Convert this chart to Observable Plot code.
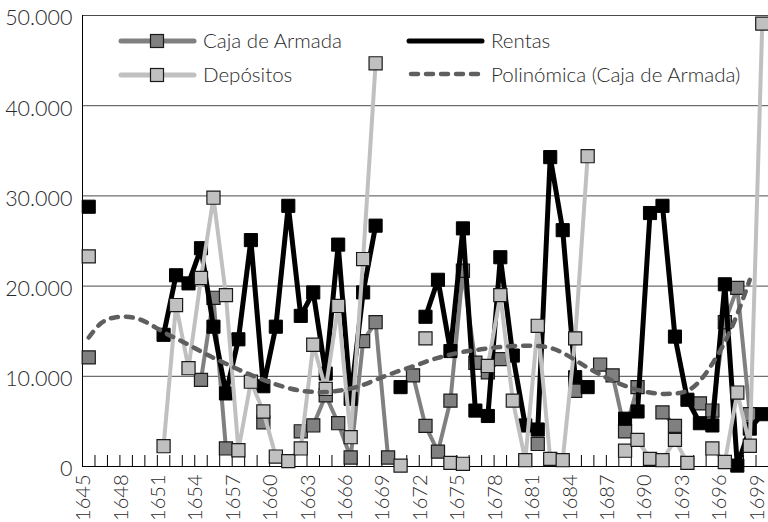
<!DOCTYPE html>
<html><head><meta charset="utf-8">
<script src="https://cdn.jsdelivr.net/npm/d3@7"></script>
<script src="https://cdn.jsdelivr.net/npm/@observablehq/plot@0.6"></script>
<style>
body{margin:0;background:#fff;}
#wrap{position:relative;width:768px;height:522px;font-family:Lato,"Open Sans",sans-serif;font-weight:300;}
.leg{position:absolute;font-size:20.5px;line-height:20px;color:#2a2a2a;white-space:nowrap;}
.sw{position:absolute;}
</style></head><body><div id="wrap"></div>
<script>
const years = [1645,1646,1647,1648,1649,1650,1651,1652,1653,1654,1655,1656,1657,1658,1659,1660,1661,1662,1663,1664,1665,1666,1667,1668,1669,1670,1671,1672,1673,1674,1675,1676,1677,1678,1679,1680,1681,1682,1683,1684,1685,1686,1687,1688,1689,1690,1691,1692,1693,1694,1695,1696,1697,1698,1699];
const labelYears = [1645,1648,1651,1654,1657,1660,1663,1666,1669,1672,1675,1678,1681,1684,1687,1690,1693,1696,1699];
const yTicks = [0,10000,20000,30000,40000,50000];
const caja = [12100,null,null,null,null,null,null,null,null,9600,18700,2000,null,null,4900,null,null,3900,4550,7900,4800,1000,13900,16000,1000,null,10100,4500,1650,7300,21700,11500,10450,11900,null,null,2500,null,null,8400,null,11300,10100,3900,8800,null,6000,4500,null,7000,6200,16000,19800,5800,null];
const rentas = [28800,null,null,null,null,null,14600,21200,20300,24200,15500,8100,14100,25100,8900,15500,28900,16700,19300,10300,24600,7500,19300,26700,null,8800,null,16600,20700,12800,26400,6200,5600,23200,12300,4550,4100,34300,26200,9900,8800,null,null,5300,6100,28100,28900,14400,7400,4800,4550,20200,100,4200,5800];
const depositos = [23300,null,null,null,null,null,2250,17900,10900,20900,29800,19000,1800,9400,6100,1100,600,2000,13500,8600,17800,3250,23000,44700,null,100,null,14200,null,400,300,null,11150,19000,7300,700,15600,850,700,14200,34400,null,null,1750,2950,850,700,2950,400,null,2000,500,8200,2300,49100];
const tendencia = [14300,15900,16500,16600,16350,15700,14900,14200,13500,12750,12050,11400,10750,10150,9600,9100,8700,8400,8270,8250,8400,8650,9050,9600,10150,10650,11100,11600,12050,12400,12700,12900,13100,13250,13350,13400,13350,13150,12600,11800,10950,10200,9500,8950,8500,8200,8050,8100,8400,9500,11400,13800,16900,20700,null];
const seriesNames = ["Caja de Armada","Rentas","Depósitos","Polinómica (Caja de Armada)"];

const rows = years.map((y,i)=>({year:y, caja:caja[i], rentas:rentas[i], depositos:depositos[i], trend:tendencia[i]}));
const between = years.map(y=>y-0.5).concat([years[years.length-1]+0.5]);
const fmt = d3.formatLocale({decimal:",",thousands:".",grouping:[3],currency:["",""]}).format(",d");
const SQ = 7.4;

const chart = Plot.plot({
  width:768, height:522,
  marginLeft:82, marginRight:0, marginTop:15, marginBottom:56,
  style:{fontFamily:"Lato, 'Open Sans', sans-serif", fontSize:"20px", color:"#2a2a2a", background:"white", fontWeight:300},
  x:{domain:[years[0]-0.5, years[years.length-1]+0.5], label:null},
  y:{domain:[0,50000], label:null},
  marks:[
    Plot.gridY(yTicks.slice(1), {stroke:"#4a4a4a", strokeOpacity:1, strokeWidth:1}),
    Plot.axisY(yTicks, {tickSize:0, tickPadding:10, tickFormat:fmt, fontSize:21.5, fill:"#2a2a2a", dy:3, label:null}),
    Plot.axisX(labelYears, {tickSize:0, tickPadding:8, tickRotate:-90, tickFormat:d=>String(d), fontSize:20, fill:"#2a2a2a", dx:-5, label:null}),
    Plot.tickX(between, {x:d=>d, insetTop:440, stroke:"#000", strokeWidth:1}),
    Plot.ruleY([0], {stroke:"#000", strokeWidth:1}),
    Plot.ruleX([years[0]-0.5], {stroke:"#000", strokeWidth:1}),
    Plot.line(rows, {x:"year", y:"caja", stroke:"#808080", strokeWidth:4}),
    Plot.dot(rows, {x:"year", y:"caja", symbol:"square", r:SQ, fill:"#808080", stroke:"#1a1a1a", strokeWidth:1.2}),
    Plot.line(rows, {x:"year", y:"rentas", stroke:"#000", strokeWidth:5}),
    Plot.dot(rows, {x:"year", y:"rentas", symbol:"square", r:SQ, fill:"#000", stroke:"#000", strokeWidth:1}),
    Plot.line(rows, {x:"year", y:"depositos", stroke:"#c0c0c0", strokeWidth:4}),
    Plot.dot(rows, {x:"year", y:"depositos", symbol:"square", r:SQ, fill:"#c0c0c0", stroke:"#1a1a1a", strokeWidth:1.2}),
    Plot.line(rows, {x:"year", y:"trend", stroke:"#5f5f5f", strokeWidth:4.5, strokeDasharray:"7,8", strokeLinecap:"round", curve:"natural"})
  ]
});
const wrap = document.getElementById("wrap");
wrap.appendChild(chart);

function swatch(left, top, color, width, dash, square, sqFill, sqStroke){
  const s = document.createElementNS("http://www.w3.org/2000/svg","svg");
  s.setAttribute("class","sw"); s.setAttribute("width",80); s.setAttribute("height",20);
  s.style.left = left+"px"; s.style.top = top+"px";
  let h = `<line x1="3" x2="76" y1="10" y2="10" stroke="${color}" stroke-width="${width}" stroke-linecap="round" ${dash?`stroke-dasharray="${dash}"`:""}/>`;
  if(square) h += `<rect x="32.5" y="3.5" width="13" height="13" fill="${sqFill}" stroke="${sqStroke}" stroke-width="1.2"/>`;
  s.innerHTML = h;
  wrap.appendChild(s);
}
function label(left, top, text){
  const d = document.createElement("div"); d.className="leg"; d.style.left=left+"px"; d.style.top=top+"px"; d.textContent=text; wrap.appendChild(d);
}
swatch(118,31,"#808080",5,null,true,"#808080","#1a1a1a");
swatch(118,65,"#c0c0c0",5,null,true,"#c0c0c0","#1a1a1a");
swatch(406,31,"#000",5,null,false);
swatch(408,64,"#5f5f5f",4.5,"7,8",false);
label(203,30,seriesNames[0]);
label(491,30,seriesNames[1]);
label(203,64,seriesNames[2]);
label(491,64,seriesNames[3]);
</script></body></html>
